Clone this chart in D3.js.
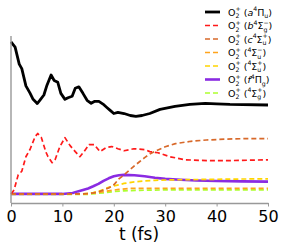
<!DOCTYPE html>
<html>
<head>
<meta charset="utf-8">
<script src="https://cdn.jsdelivr.net/npm/d3@7"></script>
<style>
  body { margin: 0; background: #fff; }
  svg { font-family: "DejaVu Sans", sans-serif; }
</style>
</head>
<body>
<div id="chart"></div>
<script>
// Chart data (populations vs time in fs)
var xTicks = [0, 10, 20, 30, 40, 50];

var tA = [0, 0.8, 1.6, 2.1, 2.9, 3.7, 4.3, 5.1, 5.6, 6.4, 7.0, 7.8, 8.4, 9.1, 9.7, 10.5, 11.1, 11.9,
  12.5, 13.2, 14.0, 14.8, 15.6, 16.3, 17.1, 17.9, 18.7, 19.3, 20.0, 20.8, 22.0, 23.2, 24.3, 25.5,
  27.0, 29.0, 31.9, 34.8, 37.8, 40.0, 42.6, 50];
var popA = [0.837, 0.809, 0.715, 0.690, 0.595, 0.555, 0.521, 0.498, 0.515, 0.545, 0.599, 0.655, 0.625,
  0.615, 0.554, 0.521, 0.530, 0.538, 0.582, 0.590, 0.554, 0.516, 0.499, 0.510, 0.510, 0.495, 0.475,
  0.460, 0.443, 0.449, 0.443, 0.432, 0.427, 0.432, 0.443, 0.466, 0.482, 0.493, 0.499, 0.496, 0.493, 0.490];

var tB = [0, 0.6, 1.4, 2.1, 2.9, 3.7, 4.7, 5.2, 5.9, 6.8, 7.2, 8.0, 8.6, 9.5, 10.5, 11.5, 12.5, 13.4,
  14.2, 15.2, 16.2, 17.3, 18.5, 19.6, 20.8, 22.0, 23.9, 26.1, 27.0, 28.6, 30.9, 33.9, 38.7, 41.6, 50];
var popB = [0, 0.022, 0.105, 0.125, 0.205, 0.245, 0.316, 0.333, 0.311, 0.230, 0.205, 0.172, 0.190,
  0.260, 0.310, 0.266, 0.233, 0.205, 0.233, 0.272, 0.272, 0.233, 0.255, 0.261, 0.249, 0.238, 0.249,
  0.244, 0.233, 0.227, 0.205, 0.188, 0.183, 0.183, 0.188];

var tC = [0, 14, 16, 17, 18, 19, 20, 21, 22, 23, 24, 25, 26, 27, 28, 30, 32, 35, 38, 42, 46, 50];
var popC = [0, 0, 0.005, 0.011, 0.022, 0.033, 0.050, 0.083, 0.105, 0.130, 0.155, 0.177, 0.200,
  0.220, 0.235, 0.260, 0.277, 0.290, 0.297, 0.302, 0.305, 0.305];

var tD = [0, 15, 17, 19, 21, 23, 26, 30, 40, 50];
var popD = [0, 0, 0.008, 0.017, 0.025, 0.030, 0.031, 0.031, 0.031, 0.031];

var tE = [0, 14, 15, 16, 17, 18, 19, 20, 21, 22, 24, 26, 28, 32, 38, 44, 50];
var popE = [0, 0, 0.003, 0.008, 0.014, 0.025, 0.036, 0.044, 0.050, 0.058, 0.066, 0.072, 0.075,
  0.078, 0.080, 0.082, 0.083];

var tF = [0, 10, 12, 13, 14, 15, 16, 17, 18, 19, 20, 21, 22, 24, 26, 28, 30, 33, 36, 40, 45, 50];
var popF = [0, 0, 0.005, 0.014, 0.022, 0.030, 0.042, 0.055, 0.072, 0.086, 0.097, 0.103, 0.105,
  0.103, 0.097, 0.089, 0.083, 0.078, 0.074, 0.071, 0.069, 0.068];

var tG = [0, 15, 18, 20, 22, 25, 30, 40, 50];
var popG = [-0.002, -0.002, 0.006, 0.013, 0.017, 0.020, 0.022, 0.022, 0.022];

// State labels: pieces of text (plain, italic, sub/superscripts)
var labelA = ["\u00a0(", { i: "a" }, { sup: "4" }, "Π", { sub: "u" }, ")"];
var labelB = ["\u00a0(", { i: "b" }, { sup: "4" }, "Σ", { sub: "g", sup: "−" }, ")"];
var labelC = ["\u00a0(", { i: "c" }, { sup: "4" }, "Σ", { sub: "u", sup: "+" }, ")"];
var labelD = ["\u00a0(", { sup: "4" }, "Σ", { sub: "u", sup: "−" }, ")"];
var labelE = ["\u00a0(", { sup: "4" }, "Σ", { sub: "u", sup: "+" }, ")"];
var labelF = ["\u00a0(", { i: "f" }, { sup: "4" }, "Π", { sub: "g" }, ")"];
var labelG = ["\u00a0(", { sup: "4" }, "Σ", { sub: "g", sup: "+" }, ")"];

// Styles
var series = [
  { t: tA, v: popA, label: labelA, color: "#000000", width: 2.8, dash: null },
  { t: tB, v: popB, label: labelB, color: "#ff1a1a", width: 1.7, dash: "5,3" },
  { t: tC, v: popC, label: labelC, color: "#d8692a", width: 1.7, dash: "5,3" },
  { t: tD, v: popD, label: labelD, color: "#ffa41c", width: 1.7, dash: "5,3" },
  { t: tE, v: popE, label: labelE, color: "#ffd500", width: 1.7, dash: "5,3" },
  { t: tF, v: popF, label: labelF, color: "#8a2be2", width: 2.6, dash: null },
  { t: tG, v: popG, label: labelG, color: "#adff2f", width: 1.7, dash: "5,3" }
];

var svgWidth = 285;
var svgHeight = 251;

var svg = d3.select("#chart")
  .append("svg")
  .attr("width", svgWidth)
  .attr("height", svgHeight);

var xScale = d3.scaleLinear().domain([0, 50]).range([11, 268]);
var yScale = d3.scaleLinear().domain([-0.05, 0.87]).range([203, 36]);

var drawLine = d3.line()
  .x(d => xScale(d[0]))
  .y(d => yScale(d[1]));

// Draw series (back to front so black/red sit on top of the little ones)
series.slice().reverse().forEach(function(s) {
  svg.append("path")
    .attr("d", drawLine(s.t.map((t, i) => [t, s.v[i]])))
    .attr("fill", "none")
    .attr("stroke", s.color)
    .attr("stroke-width", s.width)
    .attr("stroke-dasharray", s.dash)
    .attr("stroke-linejoin", "round");
});

// Axes: left spine only, bottom axis with ticks
svg.append("line")
  .attr("x1", xScale(0)).attr("x2", xScale(0))
  .attr("y1", yScale.range()[1]).attr("y2", yScale.range()[0])
  .attr("stroke", "#999").attr("stroke-width", 1.4);

var bottomAxis = d3.axisBottom(xScale)
  .tickValues(xTicks)
  .tickSize(3.5)
  .tickSizeOuter(0)
  .tickPadding(4);

var xAxisG = svg.append("g")
  .attr("transform", "translate(0," + yScale.range()[0] + ")")
  .call(bottomAxis);
xAxisG.select(".domain").attr("stroke", "#999").attr("stroke-width", 1.4);
xAxisG.selectAll(".tick line").attr("stroke", "#999").attr("stroke-width", 1);
xAxisG.selectAll(".tick text")
  .attr("fill", "#000")
  .style("font-size", "16px")
  .style("font-family", "DejaVu Sans, sans-serif");

svg.append("text")
  .attr("x", 139)
  .attr("y", 240)
  .attr("text-anchor", "middle")
  .style("font-size", "17px")
  .text("t (fs)");

// Legend
var legendX = 205, legendY = 12, legendStep = 13.5;

function writeLabel(g, x, y, pieces) {
  var cx = x;
  var put = function(str, px, py, size, italic) {
    var t = g.append("text")
      .attr("x", px).attr("y", py)
      .style("font-size", size + "px")
      .style("font-style", italic ? "italic" : "normal")
      .text(str);
    return t.node().getComputedTextLength();
  };
  pieces.forEach(function(p) {
    if (typeof p === "string") {
      cx += put(p, cx, y, 9.5, false);
    } else if (p.i) {
      cx += put(p.i, cx, y, 9.5, true);
    } else {
      var w = 0;
      if (p.sup) w = Math.max(w, put(p.sup, cx, y - 4.2, 6.2, false));
      if (p.sub) w = Math.max(w, put(p.sub, cx, y + 2.8, 6.2, false));
      cx += w;
    }
  });
}

series.forEach(function(s, i) {
  var g = svg.append("g");
  var y = legendY + i * legendStep;
  g.append("line")
    .attr("x1", legendX).attr("x2", legendX + 15)
    .attr("y1", y).attr("y2", y)
    .attr("stroke", s.color)
    .attr("stroke-width", s.width)
    .attr("stroke-dasharray", s.dash);
  writeLabel(g, legendX + 23, y + 3.5, ["O", { sub: "2", sup: "+" }].concat(s.label));
});
</script>
</body>
</html>
